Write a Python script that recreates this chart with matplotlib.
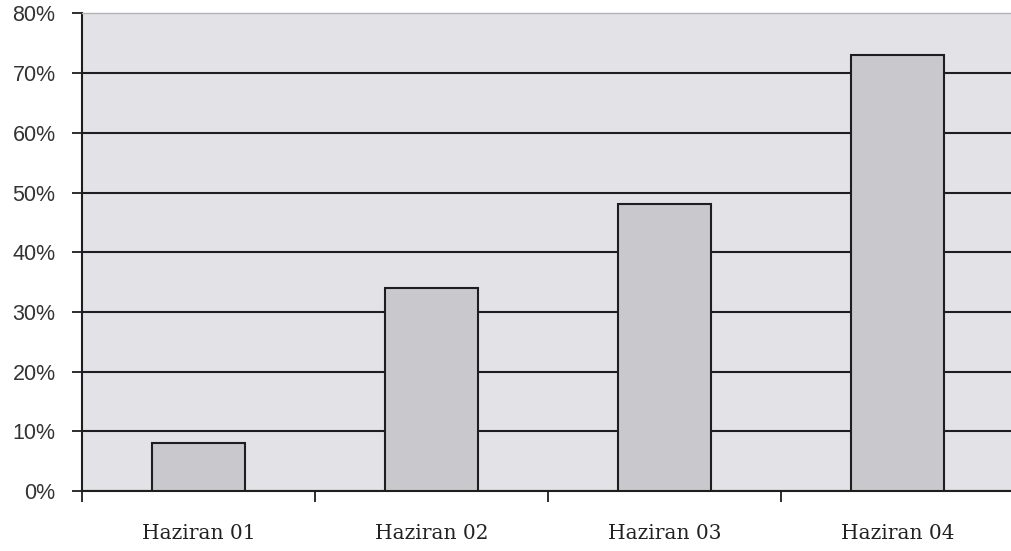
import numpy as np
import matplotlib.pyplot as plt
from matplotlib.ticker import FuncFormatter

# Monthly shares, in percent
months = ['Haziran 01', 'Haziran 02', 'Haziran 03', 'Haziran 04']
shares = [8, 34, 48, 73]
y_ticks = [0, 10, 20, 30, 40, 50, 60, 70, 80]


def plot_shares(months, shares):
    """Draws the grey bar chart and saves it"""
    fig = plt.figure(figsize=(10.11, 5.51), dpi=100)
    # Plot area runs a little past the right edge of the figure
    ax = fig.add_axes([0.0811, 0.1089, 0.9219, 0.8666])
    ax.set_facecolor('#e3e3e7')

    x = np.arange(len(months)) + 0.5
    ax.bar(x, shares, width=0.4, color='#c9c9cd', edgecolor='#1e1e1e',
           linewidth=1.5, zorder=3)

    ax.set_xlim(0, len(months))
    ax.set_ylim(0, 80)

    # Horizontal grid lines every 10%, none on the top edge
    ax.set_yticks(y_ticks)
    ax.yaxis.set_major_formatter(FuncFormatter(lambda v, p: f'{v:.0f}%'))
    ax.grid(axis='y', color='#1e1e1e', linewidth=1.5, zorder=1)
    ax.get_ygridlines()[-1].set_visible(False)
    ax.set_axisbelow(True)

    # Category ticks sit between the bars, labels in the middle
    ax.set_xticks(np.arange(len(months) + 1))
    ax.set_xticklabels([])
    ax.set_xticks(x, minor=True)
    ax.set_xticklabels(months, minor=True, fontfamily='DejaVu Serif',
                       fontsize=14.5, color='#222222')
    ax.tick_params(axis='x', which='minor', length=0, pad=24)
    ax.tick_params(axis='x', which='major', length=8, width=1.3,
                   color='#1e1e1e', direction='out')
    ax.tick_params(axis='y', length=7, width=1.3, color='#1e1e1e',
                   direction='out', pad=12, labelsize=15.5,
                   labelcolor='#333333')
    for label in ax.get_yticklabels():
        label.set_fontfamily('Liberation Sans')

    ax.spines['left'].set_color('#1e1e1e')
    ax.spines['left'].set_linewidth(1.5)
    ax.spines['bottom'].set_color('#1e1e1e')
    ax.spines['bottom'].set_linewidth(1.5)
    ax.spines['top'].set_color('#b4b4b8')
    ax.spines['top'].set_linewidth(1.0)
    ax.spines['right'].set_visible(False)

    fig.savefig('out.png', dpi=100, facecolor='white')


if __name__ == '__main__':
    plot_shares(months, shares)
